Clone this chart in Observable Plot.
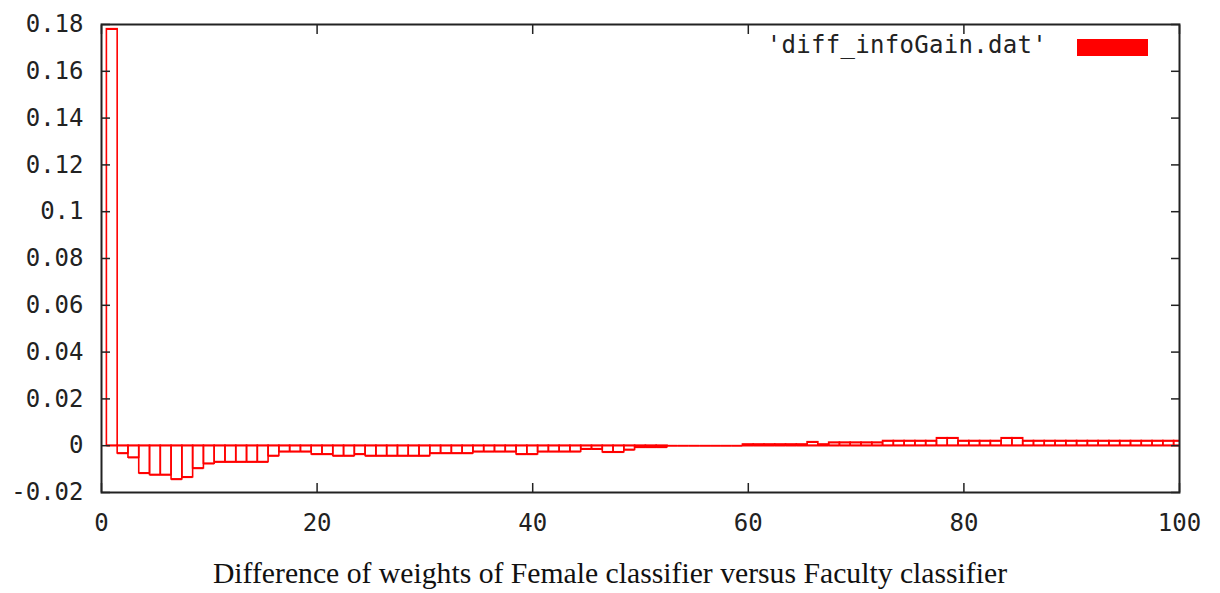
<!DOCTYPE html>
<html>
<head>
<meta charset="utf-8">
<script src="https://cdn.jsdelivr.net/npm/d3@7"></script>
<script src="https://cdn.jsdelivr.net/npm/@observablehq/plot@0.6"></script>
<style>
  html, body { margin: 0; padding: 0; background: #fff; }
  #wrap { position: relative; width: 1220px; }
  #legend { position: absolute; top: 30px; left: 0; width: 1220px; height: 30px; }
  #legend .lab { position: absolute; right: 173px; top: 0; font: 24px "DejaVu Sans Mono", monospace; color: #222; line-height: 30px; letter-spacing: 0.3px; }
  #legend .sw { position: absolute; left: 1077px; top: 9px; width: 71px; height: 17px; background: #ff0000; }
  #caption { text-align: center; font: 29.7px "Liberation Serif", "DejaVu Serif", serif; color: #111; margin-top: 10px; line-height: 36px; }
</style>
</head>
<body>
<div id="wrap">
  <div id="chart"></div>
  <div id="legend"><span class="lab"></span><span class="sw"></span></div>
  <div id="caption"></div>
</div>
<script>
// Series name and caption
const seriesLabel = "'diff_infoGain.dat'";
const captionText = "Difference of weights of Female classifier versus Faculty classifier";

// Bar positions (index 1..100) and values
const positions = [
  1,2,3,4,5,6,7,8,9,10,11,12,13,14,15,16,17,18,19,20,
  21,22,23,24,25,26,27,28,29,30,31,32,33,34,35,36,37,38,39,40,
  41,42,43,44,45,46,47,48,49,50,51,52,53,54,55,56,57,58,59,60,
  61,62,63,64,65,66,67,68,69,70,71,72,73,74,75,76,77,78,79,80,
  81,82,83,84,85,86,87,88,89,90,91,92,93,94,95,96,97,98,99,100
];
const values = [
  0.178, -0.0033, -0.0051, -0.0118, -0.0125, -0.0125, -0.0144, -0.0135, -0.0097, -0.0077,
  -0.007, -0.007, -0.007, -0.007, -0.007, -0.0044, -0.0026, -0.0026, -0.0026, -0.0037,
  -0.0037, -0.0044, -0.0044, -0.0037, -0.0044, -0.0044, -0.0044, -0.0044, -0.0044, -0.0044,
  -0.0033, -0.0033, -0.0033, -0.0033, -0.0026, -0.0026, -0.0026, -0.0026, -0.0037, -0.0037,
  -0.0026, -0.0026, -0.0026, -0.0026, -0.0015, -0.0015, -0.0028, -0.0028, -0.0018, -0.0007,
  -0.0007, -0.0007, 0, 0, 0, 0, 0, 0, 0, 0.0005,
  0.0005, 0.0005, 0.0005, 0.0005, 0.0005, 0.0015, 0.0005, 0.0013, 0.0013, 0.0013,
  0.0013, 0.0013, 0.002, 0.002, 0.002, 0.002, 0.002, 0.0032, 0.0032, 0.002,
  0.002, 0.002, 0.002, 0.0032, 0.0032, 0.002, 0.002, 0.002, 0.002, 0.002,
  0.002, 0.002, 0.002, 0.002, 0.002, 0.002, 0.002, 0.002, 0.002, 0.002
];
const xTicks = [0, 20, 40, 60, 80, 100];
const yTicks = [-0.02, 0, 0.02, 0.04, 0.06, 0.08, 0.1, 0.12, 0.14, 0.16, 0.18];

const data = positions.map((p, i) => ({x: p, v: values[i]}));
const fmt = d => String(+d.toFixed(2));
const ink = "#222";
const red = "#ff0000";

const chart = Plot.plot({
  width: 1220,
  height: 545,
  marginTop: 24,
  marginBottom: 53,
  marginLeft: 101,
  marginRight: 41,
  style: {fontFamily: "'DejaVu Sans Mono', monospace", fontSize: "24px", color: ink, background: "#fff"},
  x: {domain: [0, 100], ticks: xTicks, label: null},
  y: {domain: [-0.02, 0.18], ticks: yTicks, label: null},
  marks: [
    Plot.rectY(data, {x1: d => d.x - 0.5, x2: d => d.x + 0.5, y: "v", fill: "none", stroke: red, strokeWidth: 1.6, clip: true}),
    // bar baselines/tops as rules so zero-height bars still show as a red line
    Plot.ruleY(data, {x1: d => d.x - 0.5, x2: d => d.x + 0.5, y: "v", stroke: red, strokeWidth: 1.6, clip: true}),
    Plot.ruleY(data, {x1: d => d.x - 0.5, x2: d => d.x + 0.5, y: () => 0, stroke: red, strokeWidth: 1.6, clip: true}),
    Plot.axisX(xTicks, {anchor: "bottom", tickSize: 0, tickPadding: 21, tickFormat: fmt, fill: ink, label: null}),
    Plot.axisX(xTicks, {anchor: "bottom", tickSize: -9, fill: "none", stroke: ink, strokeWidth: 1.5, label: null}),
    Plot.axisX(xTicks, {anchor: "top", tickSize: -9, fill: "none", stroke: ink, strokeWidth: 1.5, label: null}),
    Plot.axisY(yTicks, {anchor: "left", tickSize: 0, tickPadding: 18, tickFormat: fmt, fill: ink, label: null}),
    Plot.axisY(yTicks, {anchor: "left", tickSize: -9, fill: "none", stroke: ink, strokeWidth: 1.5, label: null}),
    Plot.axisY(yTicks, {anchor: "right", tickSize: -9, fill: "none", stroke: ink, strokeWidth: 1.5, label: null}),
    Plot.frame({stroke: ink, strokeWidth: 2})
  ]
});
document.getElementById("chart").appendChild(chart);
document.querySelector("#legend .lab").textContent = seriesLabel;
document.getElementById("caption").textContent = captionText;
</script>
</body>
</html>
